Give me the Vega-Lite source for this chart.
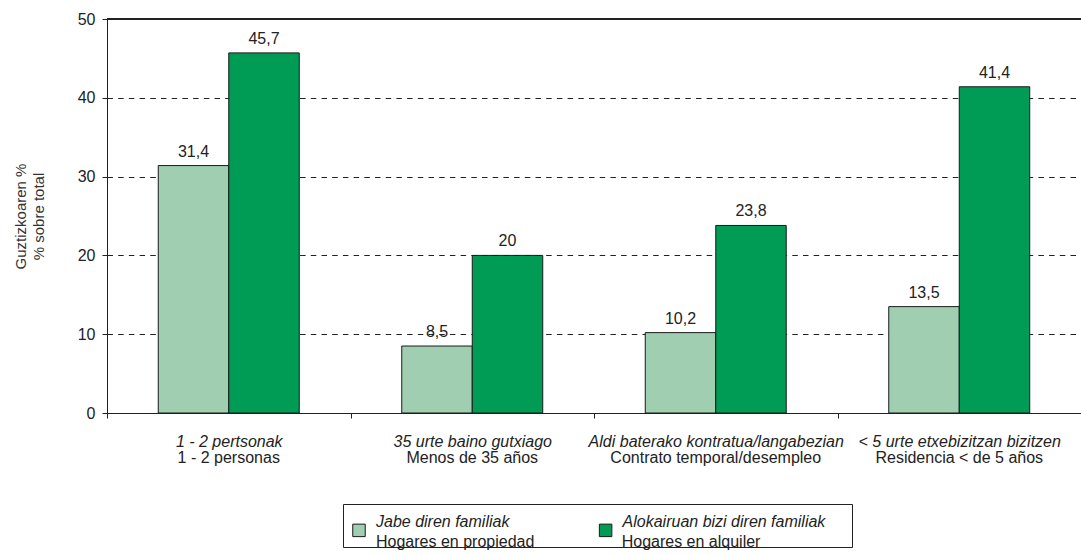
{
  "$schema": "https://vega.github.io/schema/vega-lite/v6.json",
  "width": 974,
  "height": 394,
  "autosize": {"type": "none"},
  "padding": {"left": 107, "top": 19, "right": 0, "bottom": 142},
  "background": "white",
  "config": {
    "font": "Liberation Sans",
    "view": {"stroke": null},
    "locale": {"number": {"decimal": ",", "thousands": ".", "grouping": [3], "currency": ["", " €"]}}
  },
  "data": {
    "values": [
      {"cat": "1 - 2 pertsonak", "tenure_eu": "Jabe diren familiak", "tenure_es": "Hogares en propiedad", "value": 31.4},
      {"cat": "1 - 2 pertsonak", "tenure_eu": "Alokairuan bizi diren familiak", "tenure_es": "Hogares en alquiler", "value": 45.7},
      {"cat": "35 urte baino gutxiago", "tenure_eu": "Jabe diren familiak", "tenure_es": "Hogares en propiedad", "value": 8.5},
      {"cat": "35 urte baino gutxiago", "tenure_eu": "Alokairuan bizi diren familiak", "tenure_es": "Hogares en alquiler", "value": 20},
      {"cat": "Aldi baterako kontratua/langabezian", "tenure_eu": "Jabe diren familiak", "tenure_es": "Hogares en propiedad", "value": 10.2},
      {"cat": "Aldi baterako kontratua/langabezian", "tenure_eu": "Alokairuan bizi diren familiak", "tenure_es": "Hogares en alquiler", "value": 23.8},
      {"cat": "< 5 urte etxebizitzan bizitzen", "tenure_eu": "Jabe diren familiak", "tenure_es": "Hogares en propiedad", "value": 13.5},
      {"cat": "< 5 urte etxebizitzan bizitzen", "tenure_eu": "Alokairuan bizi diren familiak", "tenure_es": "Hogares en alquiler", "value": 41.4}
    ]
  },
  "resolve": {"axis": {"x": "independent"}},
  "layer": [
    {
      "mark": {"type": "bar", "stroke": "#1a1a1a", "strokeWidth": 1},
      "encoding": {
        "x": {
          "field": "cat", "type": "nominal", "sort": null,
          "scale": {"paddingInner": 0, "paddingOuter": 0},
          "axis": {
            "title": null, "labelAngle": 0, "labelFontSize": 16, "labelFontStyle": "italic",
            "labelColor": "#222", "labelPadding": 15, "labelLimit": 400,
            "tickBand": "extent", "tickSize": 5, "tickColor": "#222", "domainColor": "#222"
          }
        },
        "xOffset": {
          "field": "tenure_eu", "type": "nominal",
          "scale": {"domain": ["Jabe diren familiak", "Alokairuan bizi diren familiak"], "paddingInner": 0, "paddingOuter": 0.727}
        },
        "y": {
          "field": "value", "type": "quantitative",
          "scale": {"domain": [0, 50], "nice": false},
          "axis": {
            "values": [0, 10, 20, 30, 40, 50],
            "title": ["Guztizkoaren %", "% sobre total"],
            "titleFontSize": 15, "titleFontWeight": "normal", "titleColor": "#333", "titlePadding": 31,
            "titleLineHeight": 18,
            "labelFontSize": 16, "labelColor": "#222", "labelPadding": 7,
            "tickSize": 5, "tickColor": "#222", "domainColor": "#222",
            "grid": true, "gridColor": "#222", "gridDash": [5.5, 5.2], "gridWidth": 1
          }
        },
        "color": {
          "field": "tenure_eu", "type": "nominal",
          "scale": {"domain": ["Jabe diren familiak", "Alokairuan bizi diren familiak"], "range": ["#9fcfb0", "#009b55"]},
          "legend": {
            "title": " ", "titleFontSize": 8, "titlePadding": 2,
            "orient": "none", "legendX": 236, "legendY": 485,
            "direction": "horizontal", "columns": 2, "columnPadding": 86.6,
            "symbolType": "square", "symbolSize": 156, "symbolStrokeColor": "#1a1a1a", "symbolStrokeWidth": 1,
            "symbolOpacity": 1,
            "labelFontSize": 16, "labelFontStyle": "italic", "labelColor": "#222", "labelOffset": 9, "labelLimit": 500,
            "labelBaseline": "bottom",
            "labelExpr": "datum.label == 'Alokairuan bizi diren familiak' ? datum.label + '\u00a0\u00a0\u00a0\u00a0\u200b' : datum.label",
            "padding": 8, "strokeColor": "#222"
          }
        },
        "opacity": {
          "field": "tenure_es", "type": "nominal",
          "scale": {"domain": ["Hogares en propiedad", "Hogares en alquiler"], "range": [1, 1]},
          "legend": {
            "title": null, "orient": "none", "legendX": 236, "legendY": 499,
            "direction": "horizontal", "columns": 2, "columnPadding": 59.7,
            "symbolType": "square", "symbolSize": 156, "symbolOpacity": 0, "symbolStrokeColor": "transparent", "symbolFillColor": "transparent",
            "labelFontSize": 16, "labelColor": "#222", "labelOffset": 9, "labelLimit": 500,
            "labelBaseline": "top",
            "padding": 8
          }
        }
      }
    },
    {
      "mark": {"type": "text", "baseline": "alphabetic", "dy": -9, "fontSize": 16, "color": "#222"},
      "encoding": {
        "x": {
          "field": "cat", "type": "nominal", "sort": null,
          "axis": {
            "orient": "bottom",
            "title": null, "labelAngle": 0, "labelFontSize": 16, "labelColor": "#222",
            "labelPadding": 36, "labelLimit": 400, "ticks": false, "domain": false,
            "labelExpr": "datum.value == '1 - 2 pertsonak' ? '1 - 2 personas' : datum.value == '35 urte baino gutxiago' ? 'Menos de 35 años' : datum.value == 'Aldi baterako kontratua/langabezian' ? 'Contrato temporal/desempleo' : 'Residencia < de 5 años'"
          }
        },
        "xOffset": {"field": "tenure_eu", "type": "nominal"},
        "y": {"field": "value", "type": "quantitative"},
        "text": {"field": "value", "type": "quantitative", "format": "~g"}
      }
    },
    {
      "mark": {"type": "rule", "color": "#222", "strokeWidth": 1},
      "encoding": {"y": {"datum": 50}}
    }
  ]
}
